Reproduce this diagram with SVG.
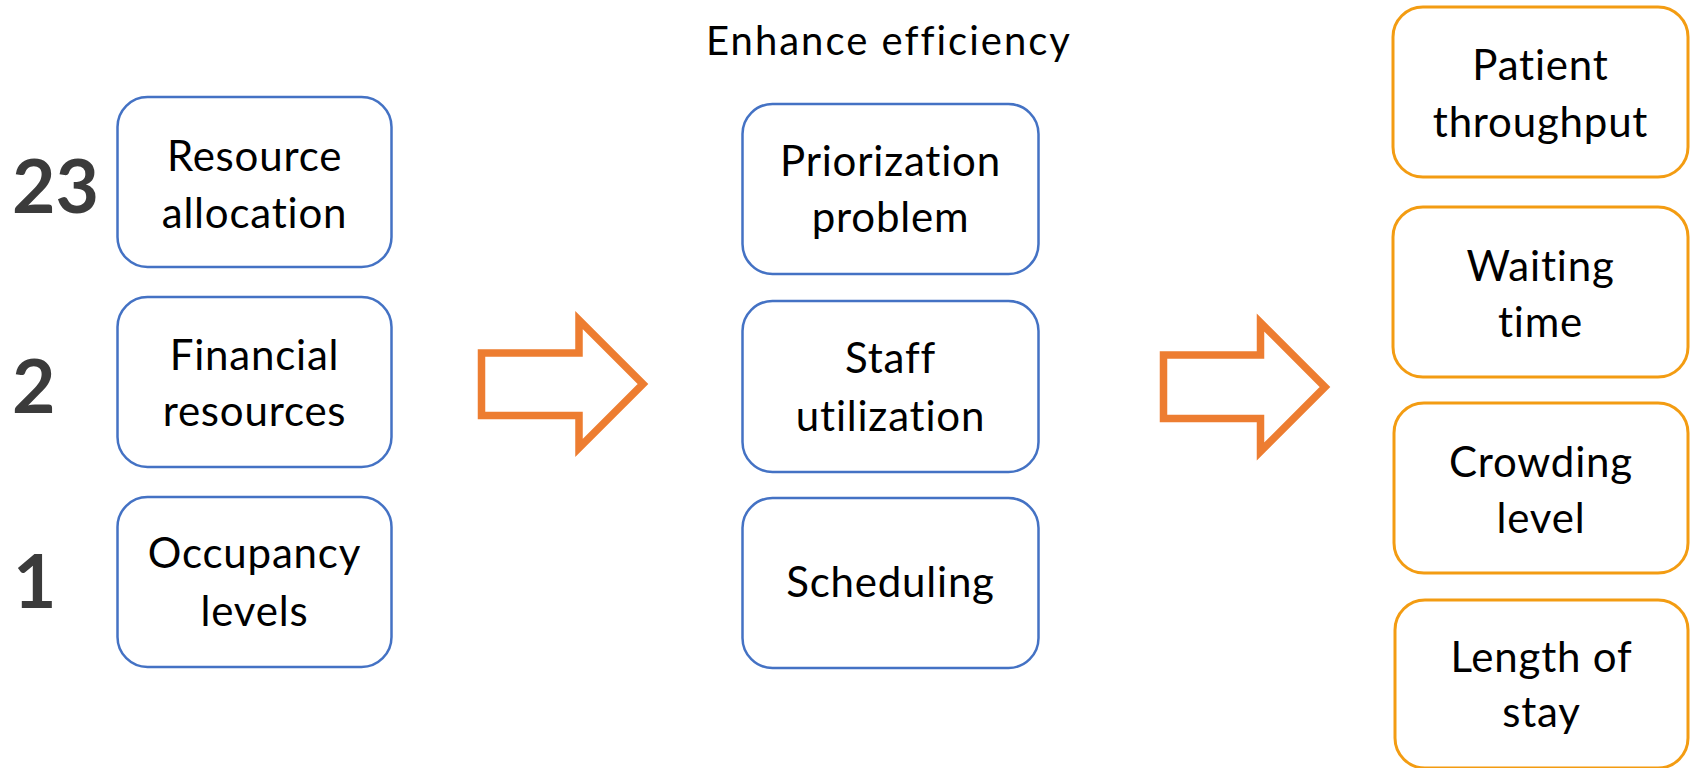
<svg xmlns="http://www.w3.org/2000/svg" width="1690" height="768" viewBox="0 0 1690 768">
<style>
.bx{fill:#fff;stroke:#4472C4;stroke-width:2.5}
.ob{fill:#fff;stroke:#F39C12;stroke-width:3}
.t{font-family:Lato,"Open Sans","Liberation Sans",sans-serif;font-size:42px;letter-spacing:0.8px;fill:#000;text-anchor:middle;font-variant-ligatures:none}
.n{font-family:Lato,"Liberation Sans",sans-serif;font-weight:700;font-size:75px;fill:#3b3b3b}
.arr{fill:none;stroke:#ED7D31;stroke-width:7.5;stroke-linejoin:miter;stroke-miterlimit:10}
</style>
<rect width="1690" height="768" fill="#fff"/>
<text class="n" x="12" y="213">23</text>
<text class="n" x="12" y="413">2</text>
<text class="n" x="13" y="608">1</text>
<g id="n-resource"><rect class="bx" x="117.5" y="97" width="274" height="170" rx="30"/><text class="t" x="254.5" y="171">Resource</text><text class="t" x="254.5" y="228">allocation</text></g>
<g id="n-financial"><rect class="bx" x="117.5" y="297" width="274" height="170" rx="30"/><text class="t" x="254.5" y="370">Financial</text><text class="t" x="254.5" y="426">resources</text></g>
<g id="n-occupancy"><rect class="bx" x="117.5" y="497" width="274" height="170" rx="30"/><text class="t" x="254.5" y="568">Occupancy</text><text class="t" x="254.5" y="626">levels</text></g>
<g id="title"><text class="t" x="889" y="55" style="font-size:40px;letter-spacing:2px">Enhance efficiency</text></g>
<g id="n-priorization"><rect class="bx" x="742.5" y="104" width="296" height="170" rx="30"/><text class="t" x="890.5" y="176">Priorization</text><text class="t" x="890.5" y="232">problem</text></g>
<g id="n-staff"><rect class="bx" x="742.5" y="301" width="296" height="171" rx="30"/><text class="t" x="890.5" y="373">Staff</text><text class="t" x="890.5" y="431">utilization</text></g>
<g id="n-scheduling"><rect class="bx" x="742.5" y="498" width="296" height="170" rx="30"/><text class="t" x="890.5" y="597">Scheduling</text></g>
<g id="n-throughput"><rect class="ob" x="1393" y="7" width="295" height="170" rx="30"/><text class="t" x="1540.5" y="80">Patient</text><text class="t" x="1540.5" y="137">throughput</text></g>
<g id="n-waiting"><rect class="ob" x="1393" y="207" width="295" height="170" rx="30"/><text class="t" x="1540.5" y="281">Waiting</text><text class="t" x="1540.5" y="337">time</text></g>
<g id="n-crowding"><rect class="ob" x="1394" y="403" width="294" height="170" rx="30"/><text class="t" x="1541" y="477">Crowding</text><text class="t" x="1541" y="533">level</text></g>
<g id="n-length"><rect class="ob" x="1395" y="600" width="293" height="168" rx="30"/><text class="t" x="1541.5" y="672">Length of</text><text class="t" x="1541.5" y="727">stay</text></g>
<g id="connectors">
<polygon class="arr" points="481.5,353 579,353 579,320 643,384 579,448 579,415.5 481.5,415.5"/>
<polygon class="arr" points="1163.5,355 1260.5,355 1260.5,322.5 1325,387 1260.5,451.5 1260.5,418.5 1163.5,418.5"/>
</g>
</svg>
